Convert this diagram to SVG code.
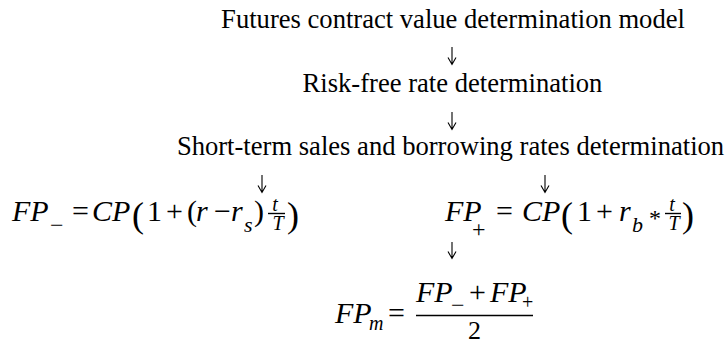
<svg xmlns="http://www.w3.org/2000/svg" width="726" height="340" viewBox="0 0 726 340">
<style>
.t{font-family:"Liberation Serif","Times New Roman",serif;font-size:26.6px;fill:#000;text-anchor:middle}
.m{font-family:"Liberation Serif","Times New Roman",serif;font-size:30px;fill:#000}
.i{font-style:italic}
.s{font-size:22px}
.sb{font-size:24px}
.f{font-size:20px;text-anchor:middle}
.big{font-size:36px}
.c{stroke:#000;stroke-width:1.1;fill:none}
.bar{stroke:#000;stroke-width:1.4}
</style>
<rect width="726" height="340" fill="#fff"/>
<g id="node-futures-model"><text class="t" x="453" y="28">Futures contract value determination model</text></g>
<g id="node-risk-free"><text class="t" x="452.5" y="92">Risk-free rate determination</text></g>
<g id="node-short-term"><text class="t" x="450.5" y="155">Short-term sales and borrowing rates determination</text></g>
<g id="node-fp-minus">
<text class="m" y="221"><tspan class="i" x="12">FP</tspan><tspan class="sb" x="50" y="233">−</tspan><tspan x="72" y="221">=</tspan><tspan class="i" x="92">CP</tspan><tspan class="big" x="132" y="227">(</tspan><tspan x="147" y="221">1</tspan><tspan x="166">+</tspan><tspan x="187">(</tspan><tspan class="i" x="196">r</tspan><tspan x="214">−</tspan><tspan class="i" x="231">r</tspan><tspan class="i s" x="244" y="232">s</tspan><tspan x="254" y="221">)</tspan><tspan class="big" x="287" y="227">)</tspan></text>
<text class="m i f" x="275" y="211">t</text>
<line class="bar" x1="268" y1="213.5" x2="285" y2="213.5"/>
<text class="m i f" x="278" y="230">T</text>
</g>
<g id="node-fp-plus">
<text class="m" y="221"><tspan class="i" x="445">FP</tspan><tspan class="sb" x="472" y="237">+</tspan><tspan x="496" y="221">=</tspan><tspan class="i" x="522">CP</tspan><tspan class="big" x="561" y="227">(</tspan><tspan x="577" y="221">1</tspan><tspan x="596">+</tspan><tspan class="i" x="619">r</tspan><tspan class="i s" x="632" y="232">b</tspan><tspan style="font-size:24px" x="649" y="226">*</tspan><tspan class="big" x="682" y="227">)</tspan></text>
<text class="m i f" x="672" y="211">t</text>
<line class="bar" x1="665" y1="213.5" x2="681" y2="213.5"/>
<text class="m i f" x="674" y="230">T</text>
</g>
<g id="node-fp-mid">
<text class="m" y="323"><tspan class="i" x="335">FP</tspan><tspan class="i" style="font-size:20px" x="369" y="330">m</tspan><tspan x="388" y="323">=</tspan></text>
<text class="m" y="302"><tspan class="i" x="416">FP</tspan><tspan class="sb" x="451" y="313">−</tspan><tspan x="469" y="302">+</tspan><tspan class="i" x="490">FP</tspan><tspan style="font-size:20px" x="522" y="309">+</tspan></text>
<line class="bar" x1="416" y1="315.5" x2="533" y2="315.5"/>
<text class="m" style="font-size:26px" x="474.5" y="339" text-anchor="middle">2</text>
</g>
<g id="connectors">
<path class="c" d="M452,47 V64 M448,57.5 L452,64.5 L456,57.5"/>
<path class="c" d="M452,112 V129 M448,122.5 L452,129.5 L456,122.5"/>
<path class="c" d="M262,175 V192 M258,185.5 L262,192.5 L266,185.5"/>
<path class="c" d="M545,175 V192 M541,185.5 L545,192.5 L549,185.5"/>
<path class="c" d="M452,242 V258 M448,251.5 L452,258.5 L456,251.5"/>
</g>
</svg>
